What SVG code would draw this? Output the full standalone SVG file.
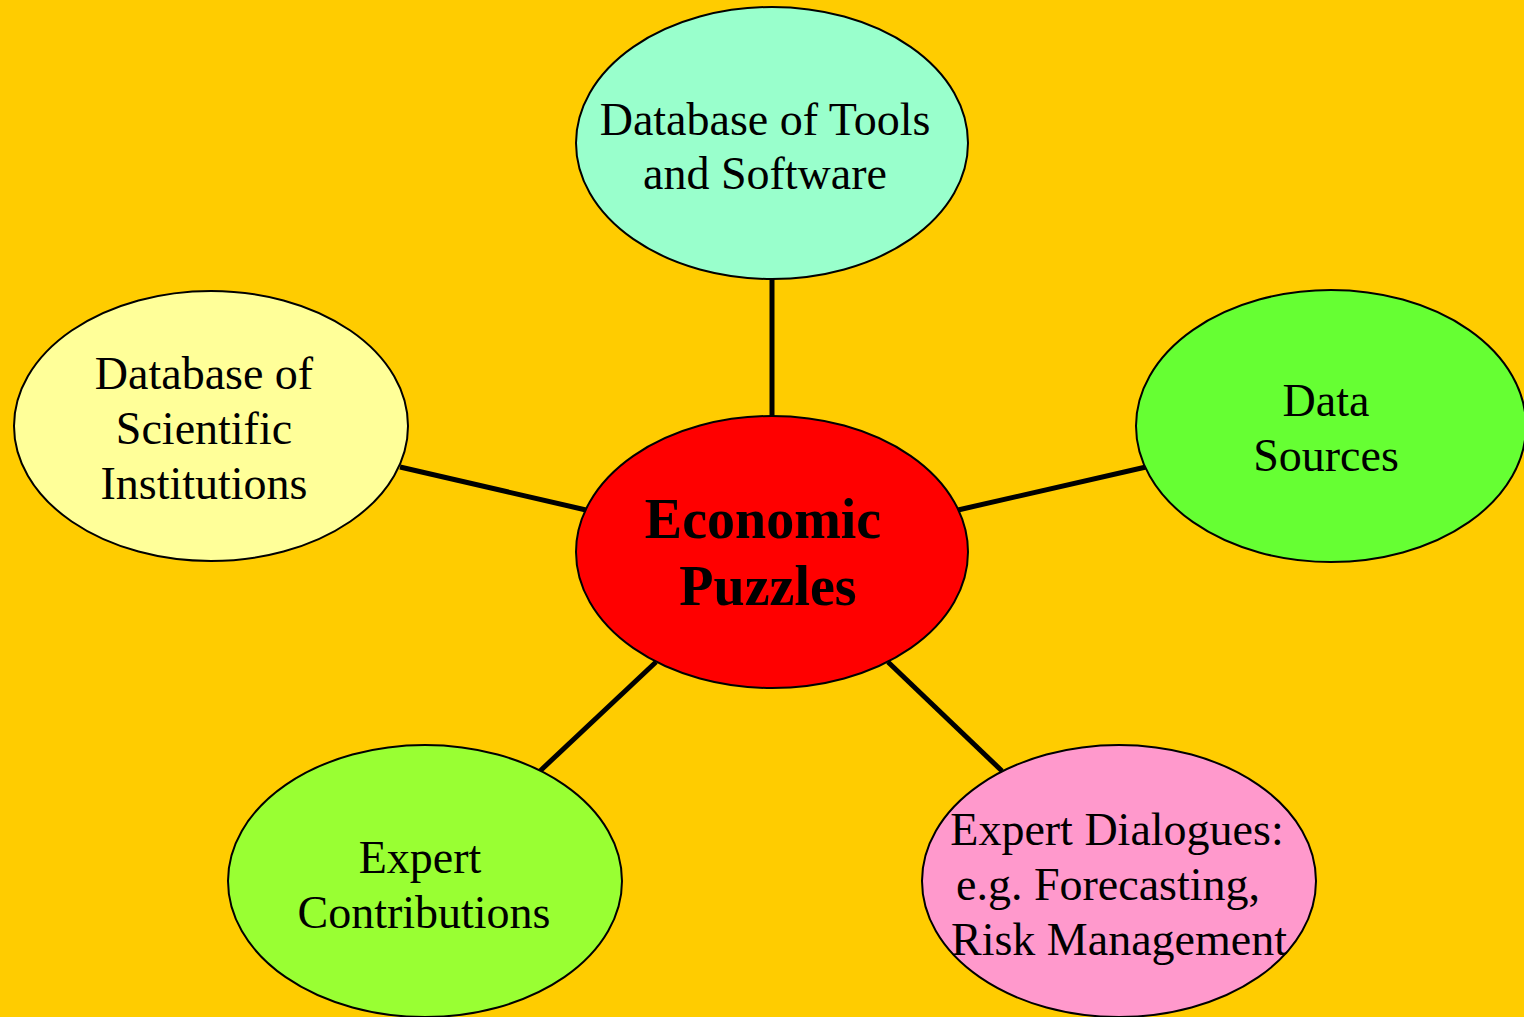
<svg xmlns="http://www.w3.org/2000/svg" width="1524" height="1017" viewBox="0 0 1524 1017">
<style>
.n{stroke:#000;stroke-width:2}
.t{font-family:"Liberation Serif","Times New Roman",serif;font-size:46px;text-anchor:middle;fill:#000}
.b{font-weight:bold;font-size:56px}
.c{stroke:#000;stroke-width:5;fill:none}
</style>
<rect width="1524" height="1017" fill="#FFCC00"/>
<g id="connectors">
<line class="c" x1="772" y1="279" x2="772" y2="416"/>
<line class="c" x1="400" y1="467" x2="586" y2="510"/>
<line class="c" x1="958" y1="510" x2="1146" y2="467"/>
<line class="c" x1="540" y1="771" x2="656" y2="662"/>
<line class="c" x1="888" y1="662" x2="1002" y2="771"/>
</g>
<g id="center">
<ellipse class="n" cx="772" cy="552" rx="196" ry="136" fill="#FF0000"/>
<text class="t b" x="763" y="538">Economic</text>
<text class="t b" x="768" y="605">Puzzles</text>
</g>
<g id="tools">
<ellipse class="n" cx="772" cy="143" rx="196" ry="136" fill="#99FFCC"/>
<text class="t" x="765" y="135">Database of Tools</text>
<text class="t" x="765" y="189">and Software</text>
</g>
<g id="institutions">
<ellipse class="n" cx="211" cy="426" rx="197" ry="135" fill="#FFFF99"/>
<text class="t" x="204" y="389">Database of</text>
<text class="t" x="204" y="444">Scientific</text>
<text class="t" x="204" y="499">Institutions</text>
</g>
<g id="data">
<ellipse class="n" cx="1331" cy="426" rx="195" ry="136" fill="#66FF33"/>
<text class="t" x="1326" y="416">Data</text>
<text class="t" x="1326" y="471">Sources</text>
</g>
<g id="contributions">
<ellipse class="n" cx="425" cy="881" rx="197" ry="136" fill="#99FF33"/>
<text class="t" x="420" y="873">Expert</text>
<text class="t" x="424" y="928">Contributions</text>
</g>
<g id="dialogues">
<ellipse class="n" cx="1119" cy="881" rx="197" ry="136" fill="#FF99CC"/>
<text class="t" x="1117" y="845">Expert Dialogues:</text>
<text class="t" x="1108" y="900">e.g. Forecasting,</text>
<text class="t" x="1119" y="955">Risk Management</text>
</g>
</svg>
